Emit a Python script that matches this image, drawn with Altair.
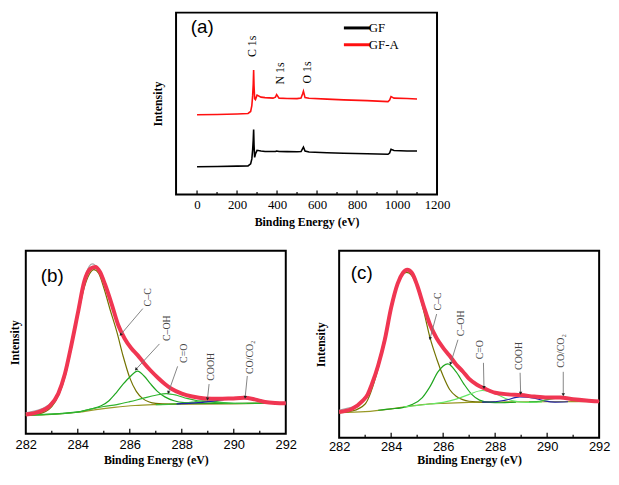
import altair as alt
import pandas as pd
import numpy as np

SERIF = "Liberation Serif"
SANS = "Liberation Sans"

# ---------------- Panel (a): survey spectra ----------------
a_be = [0, 100, 200, 255, 268, 274, 278, 281, 283, 285, 288, 292, 300, 320, 340, 380, 392,
        398, 410, 450, 500, 520, 528, 532, 540, 560, 650, 733, 850, 955, 963, 970, 985, 1050, 1100]
a_gfa = [80.7, 81.0, 81.5, 82.0, 84, 90, 100, 112, 126, 110, 97, 96, 100.5, 98.5, 98, 97.5, 98.5,
         101, 97.5, 97.2, 97, 97.5, 102, 104.5, 98, 97.3, 96.5, 95.7, 95, 94, 95.5, 99, 97.5, 97.2, 96.7]
a_gf = [28, 28.3, 28.7, 29, 31, 36, 45, 55, 65.7, 50, 37.5, 41, 44.7, 44, 43.5, 43.5, 43.5,
        44, 43.5, 43.4, 43.3, 43.5, 46.5, 48, 44, 43, 42.3, 41.8, 41.2, 40.7, 42, 45.7, 44.5, 44, 44]
a_series = ["GF", "GF-A"]
a_tick_values = [0, 200, 400, 600, 800, 1000, 1200]
a_major = [0, 200, 400, 600, 800, 1000]
a_minor = [100, 300, 500, 700, 900, 1100]
a_peak_text = ["C 1s", "N 1s", "O 1s"]
a_peak_be = [274, 414, 549]
a_peak_i = [139, 111.3, 112.3]
a_panel = ["(a)"]
a_panel_be = [-31]
a_panel_i = [169]

# ---------------- Panel (b): C1s of GF ----------------
b_env_be = [282.0, 282.5, 282.9, 283.25, 283.5, 283.75, 284.0, 284.25, 284.5, 284.68, 284.85, 285.05,
            285.3, 285.55, 285.8, 286.05, 286.3, 286.55, 286.8, 287.1, 287.35, 287.6, 288.0, 288.4,
            288.9, 289.4, 289.9, 290.4, 290.8, 291.2, 291.6, 292.0]
b_env_i = [20.0, 22.7, 28.3, 41.7, 61.7, 91.7, 125, 158.3, 171.7, 173.3, 168.3, 155, 135, 113.3, 99,
           89, 81.7, 73.3, 65.7, 57.7, 51.7, 46.7, 41.7, 38.7, 36.7, 36.3, 36.7, 37.3, 35.7, 33, 32, 31.7]
b_raw_be = [282.0, 282.4, 282.8, 283.2, 283.6, 284.0, 284.3, 284.55, 284.8, 285.1, 285.5, 286.0,
            286.5, 287.0, 287.5, 288.0, 288.5, 289.0, 289.5, 290.0, 290.5, 291.0, 291.5, 292.0]
b_raw_i = [21.7, 24.0, 28.5, 40, 73, 126, 165, 176.5, 171, 153, 116, 90, 75, 60, 49, 42, 38.5,
           36.8, 36.3, 36.8, 37, 34.5, 32.3, 31.7]
b_bg_be = [282.0, 283.0, 284.0, 284.7, 285.4, 286.2, 287.0, 288.0, 290.0, 292.0]
b_bg_i = [19.3, 20.0, 22.3, 25.0, 27.3, 29.3, 30.3, 31.0, 31.3, 31.7]
b_cc_be = [282.0, 282.5, 283.0, 283.5, 283.75, 284.0, 284.25, 284.45, 284.62, 284.8, 285.0, 285.25,
           285.5, 285.75, 286.0, 286.25, 286.5, 286.75, 287.0, 287.5, 288.0, 290.0, 292.0]
b_cc_i = [19.3, 20.7, 28.3, 58.3, 88.3, 122, 152, 166, 170.5, 166.7, 151.7, 128.3, 106, 80, 58, 44,
          36.5, 33, 31.5, 30.7, 31.0, 31.3, 31.7]
b_coh_be = [282.0, 284.0, 284.5, 284.9, 285.2, 285.5, 285.75, 286.0, 286.3, 286.55, 286.8, 287.05,
            287.35, 287.7, 288.1, 288.6, 290.0, 292.0]
b_coh_i = [19.3, 22.7, 25.7, 29, 34.3, 43.3, 51.7, 59, 65, 60, 51.7, 44.3, 38.3, 34.3, 32.3, 31.7, 31.4, 31.7]
b_co_be = [282.0, 284.0, 284.5, 285.0, 285.5, 286.0, 286.5, 287.0, 287.4, 287.8, 288.2, 288.6, 289.0,
           289.5, 290.0, 292.0]
b_co_i = [19.3, 22.5, 25.7, 28.3, 30.3, 33.3, 36.7, 40, 41.7, 40, 36.7, 34.3, 33, 32, 31.7, 31.7]
b_cooh_be = [287.0, 287.6, 288.0, 288.4, 288.8, 289.2, 289.6, 290.0, 290.5]
b_cooh_i = [30.3, 30.8, 31.6, 32.8, 34.3, 33.8, 32.3, 31.6, 31.4]
b_co2_be = [287.8, 288.4, 288.8, 289.2, 289.6, 290.0, 290.35, 290.7, 291.1, 291.5, 292.0]
b_co2_i = [31.0, 31.8, 32.6, 33.8, 35.5, 37.0, 37.8, 37.0, 34.5, 32.5, 31.8]

ann_text = ["C–C", "C–OH", "C=O", "COOH", "CO/CO₂"]
b_ann_be = [286.7, 287.42, 288.1, 289.11, 290.61]
b_ann_i = [132.3, 96.3, 73.6, 55, 62]
b_lead_be = [286.5, 287.14, 287.84, 289.05, 290.52]
b_lead_i = [130, 93.3, 70, 51.6, 60]
b_tip_be = [285.66, 286.25, 287.49, 288.99, 290.44]
b_tip_i = [103.3, 67.3, 43.3, 36.6, 38.3]
b_panel = ["(b)"]
b_panel_be = [282.58]
b_panel_i = [164.3]

# ---------------- Panel (c): C1s of GF-A ----------------
c_env_be = [282.0, 282.5, 282.9, 283.1, 283.25, 283.5, 283.75, 284.0, 284.25, 284.45, 284.62, 284.8,
            285.0, 285.25, 285.5, 285.75, 286.0, 286.25, 286.5, 286.75, 287.0, 287.3, 287.6, 288.0,
            288.5, 289.0, 289.5, 290.0, 290.5, 291.0, 291.5, 292.0]
c_env_i = [26.7, 30.0, 38.3, 45, 55, 75, 101, 135, 160, 171, 174.3, 171, 158.3, 136.7, 117, 103.3,
           93.3, 85, 76, 69, 61, 55, 51, 46.7, 45, 44.3, 42.7, 41.7, 41.7, 40, 38.7, 37.7]
c_raw_be = [282.0, 282.3, 282.6, 282.9, 283.2, 283.6, 284.0, 284.3, 284.6, 285.0, 285.5, 286.0,
            287.0, 288.0, 289.0, 290.0, 291.0, 292.0]
c_raw_i = [28.5, 30.5, 33.0, 39.0, 52.0, 88.0, 135, 163, 174.5, 158, 117, 93, 61, 46.5, 44.3, 41.7, 40, 37.7]
c_bg_be = [282.0, 283.0, 284.0, 284.6, 285.2, 286.0, 287.0, 288.0, 290.0, 292.0]
c_bg_i = [26.0, 27.0, 30.0, 32.3, 34.3, 35.7, 36.7, 37.0, 37.3, 37.7]
c_cc_be = [282.0, 282.5, 283.0, 283.5, 284.0, 284.3, 284.6, 284.8, 285.0, 285.25, 285.5, 285.75,
           286.0, 286.25, 286.5, 286.75, 287.0, 287.5, 288.0]
c_cc_i = [26.0, 27.7, 35, 71.7, 133, 162, 171.7, 168, 156.7, 131.7, 103.3, 82, 64, 50, 43, 39.5, 37.8, 37.0, 37.0]
c_coh_be = [283.5, 284.0, 284.4, 284.8, 285.2, 285.5, 285.8, 286.18, 286.5, 286.8, 287.1, 287.4,
            287.8, 288.2, 288.8]
c_coh_i = [28.5, 30.0, 31.0, 34.3, 41.7, 53.3, 68.3, 76.7, 68.3, 55.7, 45, 39, 36.7, 36.3, 37.0]
c_co_be = [284.5, 285.5, 286.0, 286.5, 287.0, 287.5, 288.0, 288.4, 288.8, 289.2, 289.8]
c_co_i = [32.0, 35.0, 36.7, 40, 45, 49, 46, 40.7, 37.7, 36.7, 37.2]
c_cooh_be = [287.5, 288.0, 288.4, 288.95, 289.5, 289.9, 290.3, 290.8]
c_cooh_i = [36.9, 37.3, 39, 42.3, 41, 38.3, 37.0, 37.3]
c_co2_be = [289.3, 289.6, 290.0, 290.6, 291.1, 291.6, 292.0]
c_co2_i = [37.3, 37.5, 39.5, 41.3, 39.5, 38.2, 37.8]

c_ann_be = [285.79, 286.67, 287.42, 288.9, 290.53]
c_ann_i = [132, 105.4, 81.4, 70.4, 72.7]
c_lead_be = [285.75, 286.57, 287.55, 288.96, 290.62]
c_lead_i = [128.4, 101.7, 77.7, 67.4, 68.4]
c_tip_be = [285.5, 286.29, 287.57, 288.98, 290.62]
c_tip_i = [103.4, 77.4, 52.7, 46.7, 45]
c_panel = ["(c)"]
c_panel_be = [282.45]
c_panel_i = [170.7]

xps_tick_values = [282, 284, 286, 288, 290, 292]
xps_major = [284, 286, 288, 290]
xps_minor = [283, 285, 287, 289, 291]

# ---------------- sizes ----------------
A_W, A_H, A_DOM = 264, 184, [0, 184]
B_W, B_H, B_DOM = 263, 185, [0, 190]
C_W, C_H, C_DOM = 263, 189, [0, 194]


def xenc(domain, values, font, size, lpad, tpad, fmt):
    return alt.X("be:Q", scale=alt.Scale(domain=domain, nice=False, zero=False),
                 axis=alt.Axis(values=values, format=fmt, title="Binding Energy (eV)",
                               labelFont=font, labelFontSize=size, labelColor="black",
                               labelPadding=lpad, labelFlush=False, labelOverlap=False,
                               ticks=False, domain=False, grid=False,
                               titleFont=SERIF, titleFontSize=12, titleFontWeight="bold",
                               titleColor="black", titlePadding=tpad))


def yenc(domain, tpad):
    return alt.Y("i:Q", scale=alt.Scale(domain=domain, nice=False, zero=False),
                 axis=alt.Axis(title="Intensity", labels=False, ticks=False, domain=False,
                               grid=False, titleFont=SERIF, titleFontSize=12,
                               titleFontWeight="bold", titleColor="black", titlePadding=tpad))


def tick_layers(x, major, minor, h, lmaj, lmin):
    t1 = alt.Chart(pd.DataFrame({"be": major})).mark_rule(color="black", strokeWidth=1.2).encode(
        x=x, y=alt.value(h - lmaj), y2=alt.value(h))
    t2 = alt.Chart(pd.DataFrame({"be": minor})).mark_rule(color="black", strokeWidth=1.2).encode(
        x=x, y=alt.value(h - lmin), y2=alt.value(h))
    return [t1, t2]


# ---- panel (a)
xa = xenc([-105, 1200], a_tick_values, SERIF, 13, 4, 5, "d")
ya = yenc(A_DOM, 12)
df_a = pd.DataFrame({"be": a_be + a_be, "i": a_gf + a_gfa,
                     "series": [a_series[0]] * len(a_be) + [a_series[1]] * len(a_be)})
lines_a = alt.Chart(df_a).mark_line(strokeWidth=1.6).encode(
    x=xa, y=ya,
    color=alt.Color("series:N", scale=alt.Scale(domain=a_series, range=["black", "#ff1010"]),
                    legend=alt.Legend(title=None, orient="none", legendX=320, legendY=7,
                                      symbolType="M-1,0L3,0", symbolStrokeWidth=3, symbolSize=180,
                                      labelFont=SERIF, labelFontSize=13, labelColor="black",
                                      labelOffset=10, padding=0, rowPadding=1)))
peaks_a = alt.Chart(pd.DataFrame({"be": a_peak_be, "i": a_peak_i, "t": a_peak_text})).mark_text(
    angle=270, align="left", baseline="middle", font=SERIF, fontSize=12, color="black").encode(
    x=xa, y=ya, text="t:N")
lab_a = alt.Chart(pd.DataFrame({"be": a_panel_be, "i": a_panel_i, "t": a_panel})).mark_text(
    align="left", baseline="middle", font=SANS, fontSize=19, color="black").encode(x=xa, y=ya, text="t:N")
panel_a = alt.layer(lines_a, peaks_a, lab_a, *tick_layers(xa, a_major, a_minor, A_H, 4, 2.5)).properties(
    width=A_W, height=A_H)

spacer = alt.Chart(pd.DataFrame({"be": [0], "i": [0]})).mark_point(opacity=0).encode(
    x=alt.X("be:Q", axis=None), y=alt.Y("i:Q", axis=None)).properties(
    width=132, height=10, view=alt.ViewBackground(stroke="transparent"))

# ---- XPS panels
COMP = ["bg", "cc", "coh", "co", "cooh", "co2"]


def xps_panel(W, H, DOM, lpad, tpad, ytpad, bg, cc, coh, co, cooh, co2, raw, env,
              colors, ann, lead, tip, panel):
    x = xenc([282, 292], xps_tick_values, SANS, 13, lpad, tpad, "d")
    y = yenc(DOM, ytpad)
    rows = []
    for name, (bx, by) in zip(COMP, [bg, cc, coh, co, cooh, co2]):
        rows += [{"be": a, "i": b, "comp": name} for a, b in zip(bx, by)]
    comps = alt.Chart(pd.DataFrame(rows)).mark_line(strokeWidth=1.2, interpolate="monotone").encode(
        x=x, y=y, color=alt.Color("comp:N", scale=alt.Scale(domain=COMP, range=colors), legend=None),
        order=alt.Order("be:Q"))
    rawl = alt.Chart(pd.DataFrame({"be": raw[0], "i": raw[1]})).mark_line(
        strokeWidth=1.2, color="#a8a8a8", interpolate="monotone").encode(x=x, y=y)
    envl = alt.Chart(pd.DataFrame({"be": env[0], "i": env[1]})).mark_line(
        strokeWidth=4, color="#f03652", interpolate="monotone").encode(x=x, y=y)
    kx, ky = W / 10.0, H / float(DOM[1])
    dx = (np.array(tip[0]) - np.array(lead[0])) * kx
    dy = -(np.array(tip[1]) - np.array(lead[1])) * ky
    ang = (np.degrees(np.arctan2(dx, -dy)) + 360) % 360
    df_ann = pd.DataFrame({"be": ann[0], "i": ann[1], "t": ann_text})
    df_lead = pd.DataFrame({"be": lead[0], "i": lead[1], "be2": tip[0], "i2": tip[1], "ang": ang})
    texts = alt.Chart(df_ann).mark_text(angle=270, align="left", baseline="middle", font=SERIF,
                                        fontSize=10, color="#444444").encode(x=x, y=y, text="t:N")
    leads = alt.Chart(df_lead).mark_rule(color="#777777", strokeWidth=0.9).encode(
        x=x, y=y, x2=alt.X2("be2:Q"), y2=alt.Y2("i2:Q"))
    heads = alt.Chart(df_lead).mark_point(shape="triangle", filled=True, size=12, color="#222222",
                                          opacity=1).encode(
        x=alt.X("be2:Q", scale=alt.Scale(domain=[282, 292], nice=False, zero=False)),
        y=alt.Y("i2:Q", scale=alt.Scale(domain=DOM, nice=False, zero=False)),
        angle=alt.Angle("ang:Q", scale=None))
    lab = alt.Chart(pd.DataFrame({"be": panel[0], "i": panel[1], "t": panel[2]})).mark_text(
        align="left", baseline="middle", font=SANS, fontSize=19, color="black").encode(
        x=x, y=y, text="t:N")
    return alt.layer(comps, rawl, envl, leads, heads, texts, lab,
                     *tick_layers(x, xps_major, xps_minor, H, 5, 3)).properties(width=W, height=H)


panel_b = xps_panel(B_W, B_H, B_DOM, 5, 3, 4,
                    (b_bg_be, b_bg_i), (b_cc_be, b_cc_i), (b_coh_be, b_coh_i), (b_co_be, b_co_i),
                    (b_cooh_be, b_cooh_i), (b_co2_be, b_co2_i), (b_raw_be, b_raw_i), (b_env_be, b_env_i),
                    ["#999926", "#737300", "#1fa61f", "#30b530", "#3cbb3c", "#2020a8"],
                    (b_ann_be, b_ann_i), (b_lead_be, b_lead_i), (b_tip_be, b_tip_i),
                    (b_panel_be, b_panel_i, b_panel))
panel_c = xps_panel(C_W, C_H, C_DOM, 3, 1, 12,
                    (c_bg_be, c_bg_i), (c_cc_be, c_cc_i), (c_coh_be, c_coh_i), (c_co_be, c_co_i),
                    (c_cooh_be, c_cooh_i), (c_co2_be, c_co2_i), (c_raw_be, c_raw_i), (c_env_be, c_env_i),
                    ["#999926", "#737300", "#1fa61f", "#66e866", "#2020a8", "#3cbb3c"],
                    (c_ann_be, c_ann_i), (c_lead_be, c_lead_i), (c_tip_be, c_tip_i),
                    (c_panel_be, c_panel_i, c_panel))

top = alt.hconcat(spacer, panel_a, spacing=20, bounds="flush")
bottom = alt.hconcat(panel_b, panel_c, spacing=54, bounds="flush").resolve_scale(color="independent")
chart = alt.vconcat(top, bottom, spacing=22).resolve_scale(
    color="independent").properties(padding={"top": 1, "left": 0, "right": 0, "bottom": 0},
                                    background="white").configure_view(stroke="black", strokeWidth=2)

chart.save("out.html", embed_options={"renderer": "svg", "actions": False})
